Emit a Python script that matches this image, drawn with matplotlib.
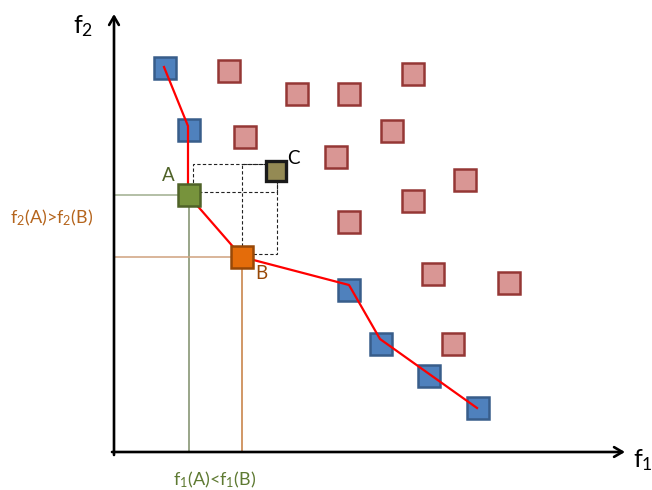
import matplotlib
matplotlib.use("Agg")
import matplotlib.pyplot as plt
from matplotlib.patches import Rectangle

plt.rcParams["font.family"] = ["Lato", "DejaVu Sans"]
plt.rcParams["mathtext.fontset"] = "custom"
plt.rcParams["mathtext.rm"] = "Lato"
plt.rcParams["mathtext.it"] = "Lato"

# Objective values (f1, f2) of the candidate solutions
front_f1 = [51, 75, 235, 267, 315, 364]
front_f2 = [384, 322, 162, 108, 76, 44]
dominated_f1 = [115, 183, 235, 299, 131, 278, 222, 351, 299, 235, 319, 395, 339]
dominated_f2 = [381, 358, 358, 378, 315, 321, 295, 272, 251, 230, 178, 169, 108]
point_a = (75, 257)
point_b = (128, 195)
point_c = (162, 281)

# Polyline tracing the non-dominated front
front_path_f1 = [50, 74, 74, 128, 235, 266, 363]
front_path_f2 = [385, 326, 257, 195, 167, 113, 44]

# Dominance boxes of C relative to A and B
box_a = (79, 260, 163, 288)
box_b = (128, 198, 163, 288)

fig = plt.figure(figsize=(6.52, 4.90), dpi=100)
ax = fig.add_axes([0, 0, 1, 1])
ax.set_xlim(-114, 538)
ax.set_ylim(-38, 452)
ax.axis("off")

ms = 15.4
mew = 1.8

# Axes with arrow heads
arrow_kw = dict(arrowstyle="->,head_length=0.6,head_width=0.35", lw=1.9, color="black",
                shrinkA=0, shrinkB=0)
ax.annotate("", xy=(0, 438), xytext=(0, -3), arrowprops=arrow_kw)
ax.annotate("", xy=(511, 0), xytext=(-2, 0), arrowprops=arrow_kw)

# Guide lines from A and B to the axes
ax.plot([0, point_a[0]], [point_a[1], point_a[1]], color="#9fae8e", lw=1.1, zorder=2)
ax.plot([point_a[0], point_a[0]], [0, point_a[1]], color="#7d8d68", lw=1.1, zorder=2)
ax.plot([0, point_b[0]], [point_b[1], point_b[1]], color="#cfa27e", lw=1.1, zorder=2)
ax.plot([point_b[0], point_b[0]], [0, point_b[1]], color="#c57a3c", lw=1.1, zorder=2)

for x0, y0, x1, y1 in (box_a, box_b):
    ax.add_patch(Rectangle((x0, y0), x1 - x0, y1 - y0, fill=False, ec="#222222",
                           lw=0.8, ls=(0, (3, 2)), zorder=2))

# Dominated solutions
ax.plot(dominated_f1, dominated_f2, ls="none", marker="s", ms=ms, mfc="#d99694",
        mec="#953735", mew=mew, zorder=3)
# Non-dominated solutions
ax.plot(front_f1, front_f2, ls="none", marker="s", ms=ms, mfc="#4f81bd",
        mec="#385d8a", mew=mew, zorder=3)

ax.plot(front_path_f1, front_path_f2, color="#ff0000", lw=1.6, zorder=4)

ax.plot(*point_a, marker="s", ms=ms, mfc="#77933c", mec="#4f6228", mew=mew, zorder=5)
ax.plot(*point_b, marker="s", ms=ms, mfc="#e46c0a", mec="#984807", mew=mew, zorder=5)
ax.plot(*point_c, marker="s", ms=ms - 0.6, mfc="#948a54", mec="#1a1a1a", mew=2.4, zorder=5)

# Labels
ax.text(-41, 419, r"$\mathrm{f}_2$", fontsize=18, ha="left", va="baseline")
ax.text(519, -15, r"$\mathrm{f}_1$", fontsize=18, ha="left", va="baseline")
ax.text(48, 271, "A", fontsize=13.5, color="#4f6228", ha="left", va="baseline")
ax.text(141, 173, "B", fontsize=13.5, color="#984807", ha="left", va="baseline")
ax.text(173, 288, "C", fontsize=13.5, color="black", ha="left", va="baseline")
ax.text(-104, 229, r"$\mathrm{f}_2$(A)>$\mathrm{f}_2$(B)", fontsize=13,
        color="#b5651d", ha="left", va="baseline")
ax.text(59, -33, r"$\mathrm{f}_1$(A)<$\mathrm{f}_1$(B)", fontsize=13,
        color="#5e7a32", ha="left", va="baseline")

fig.savefig("out.png", dpi=100)
